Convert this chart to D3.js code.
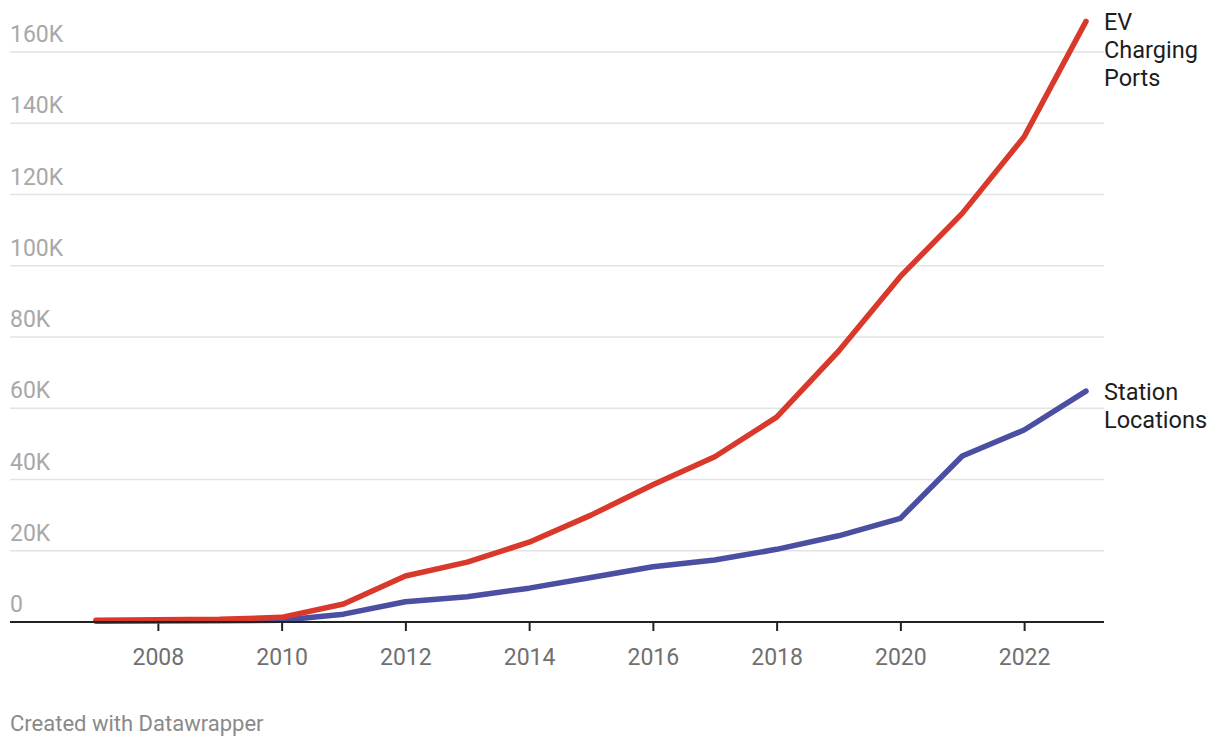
<!DOCTYPE html>
<html>
<head>
<meta charset="utf-8">
<script src="https://cdn.jsdelivr.net/npm/d3@7"></script>
<style>
  html, body { margin: 0; padding: 0; background: #fff; }
  svg { display: block; font-family: Roboto, "Noto Sans", sans-serif; }
</style>
</head>
<body>
<svg id="chart" width="1220" height="748"></svg>
<script>
const years = [2007, 2008, 2009, 2010, 2011, 2012, 2013, 2014, 2015, 2016, 2017, 2018, 2019, 2020, 2021, 2022, 2023];
const chargingPorts = [500, 600, 750, 1300, 5050, 12900, 16800, 22400, 30000, 38500, 46400, 57500, 76000, 97000, 114700, 136200, 168600];
const stationLocations = [200, 250, 350, 500, 2200, 5700, 7100, 9500, 12500, 15500, 17400, 20400, 24200, 29100, 46600, 53900, 64800];
const yTicks = [0, 20000, 40000, 60000, 80000, 100000, 120000, 140000, 160000];
const yTickLabels = ["0", "20K", "40K", "60K", "80K", "100K", "120K", "140K", "160K"];
const xTicks = [2008, 2010, 2012, 2014, 2016, 2018, 2020, 2022];
const seriesNames = [["EV", "Charging", "Ports"], ["Station", "Locations"]];
const seriesColors = ["#d9392b", "#4a4fa2"];

const svg = d3.select("#chart");
const left = 10, right = 1104;
const x = d3.scaleLinear().domain([2007, 2023]).range([96, 1086]);
const y = d3.scaleLinear().domain([0, 160000]).range([622, 52]);

// gridlines
const grid = svg.append("g");
grid.selectAll("line").data(yTicks.filter(d => d > 0)).join("line")
  .attr("x1", left).attr("x2", right)
  .attr("y1", d => y(d)).attr("y2", d => y(d))
  .attr("stroke", "#e3e3e3").attr("stroke-width", 1.5);

// y labels
svg.append("g").selectAll("text").data(yTicks).join("text")
  .attr("x", left).attr("y", d => y(d) - 10)
  .attr("fill", "#a8a8a8").attr("font-size", 23)
  .text((d, i) => yTickLabels[i]);

// x axis
const xAxis = d3.axisBottom(x).tickValues(xTicks).tickFormat(d3.format("d")).tickSize(9).tickPadding(18);
const gx = svg.append("g").attr("transform", `translate(0,${y(0)})`).call(xAxis);
gx.select(".domain").remove();
gx.selectAll(".tick line").attr("stroke", "#222").attr("stroke-width", 2);
gx.selectAll(".tick text").attr("fill", "#707070").attr("font-size", 23)
  .attr("font-family", "Roboto, 'Noto Sans', sans-serif").attr("dy", "0.71em");

const line = d3.line().x((d, i) => x(years[i])).y(d => y(d));
[stationLocations, chargingPorts].forEach((vals, k) => {
  const c = k === 0 ? seriesColors[1] : seriesColors[0];
  svg.append("path").datum(vals).attr("d", line)
    .attr("fill", "none").attr("stroke", c).attr("stroke-width", 5.5)
    .attr("stroke-linejoin", "round").attr("stroke-linecap", "round");
});

// baseline
svg.append("line").attr("x1", left).attr("x2", right)
  .attr("y1", y(0)).attr("y2", y(0)).attr("stroke", "#222").attr("stroke-width", 2);

// series labels
[chargingPorts, stationLocations].forEach((vals, k) => {
  const yEnd = y(vals[vals.length - 1]);
  const t = svg.append("text").attr("x", 1104).attr("y", yEnd + 8.5)
    .attr("fill", "#1d1d1d").attr("font-size", 23.5);
  seriesNames[k].forEach((w, j) => {
    t.append("tspan").attr("x", 1104).attr("dy", j === 0 ? 0 : 28).text(w);
  });
});

// footer
svg.append("text").attr("x", 10).attr("y", 731)
  .attr("fill", "#8a8a8a").attr("font-size", 22).text("Created with Datawrapper");
</script>
</body>
</html>
